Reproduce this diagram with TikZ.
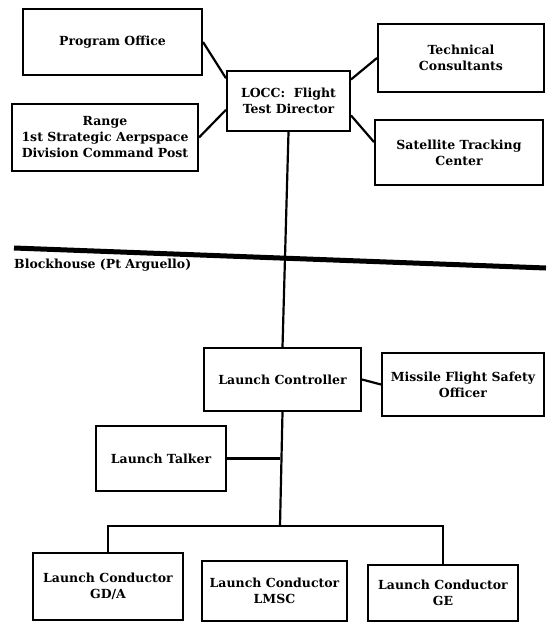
\documentclass[tikz,border=0pt]{standalone}
\usepackage{fontspec}
\setmainfont{DejaVu Serif}
\begin{document}
\begin{tikzpicture}[x=1pt,y=-1pt,
  box/.style={draw, line width=2pt, align=center, inner sep=1pt,
    font=\bfseries\fontsize{12.5}{16}\selectfont},
  conn/.style={line width=2.2pt}]
\useasboundingbox (0,0) rectangle (546,623);
% top group
\node[box, minimum width=179pt, minimum height=66pt] (po) at (112.5,42) {Program Office};
\node[box, minimum width=166pt, minimum height=68pt] (tc) at (461,58) {Technical\\Consultants};
\node[box, minimum width=123pt, minimum height=60pt] (locc) at (288.5,101) {LOCC:\ \ Flight\\Test Director};
\node[box, minimum width=186pt, minimum height=67pt] (range) at (105,137.5) {Range\\1st Strategic Aerpspace\\Division Command Post};
\node[box, minimum width=168pt, minimum height=65pt] (stc) at (459,152.5) {Satellite Tracking\\Center};
\draw[conn] (po.east) -- (locc.160);
\draw[conn] (locc.19) -- (tc.west);
\draw[conn] (range.east) -- (locc.188);
\draw[conn] (locc.-13) -- (stc.173);
% divider
\coordinate (dl) at (14,248);
\coordinate (dr) at (546,268);
\draw[line width=5pt] (dl) -- (dr);
\node[anchor=west, inner sep=0pt, font=\bfseries\fontsize{12.5}{14}\selectfont] (bh) at (14,265) {Blockhouse (Pt Arguello)};
% blockhouse group
\node[box, minimum width=157pt, minimum height=63pt] (lc) at (282.5,379.5) {Launch Controller};
\node[box, minimum width=162pt, minimum height=63pt] (mfso) at (463,384.5) {Missile Flight Safety\\Officer};
\node[box, minimum width=130pt, minimum height=65pt] (lt) at (161,458.5) {Launch Talker};
\node[box, minimum width=150pt, minimum height=67pt] (gda) at (108,586.5) {Launch Conductor\\GD/A};
\node[box, minimum width=145pt, minimum height=60pt] (lmsc) at (274.5,591) {Launch Conductor\\LMSC};
\node[box, minimum width=150pt, minimum height=56pt] (ge) at (443,593) {Launch Conductor\\GE};
\draw[conn] (locc.south) -- (lc.north);
\draw[conn] (lc.east) -- (mfso.west);
\coordinate (bar) at (280,526);
\draw[conn] (lc.south) -- (bar);
\draw[conn] (lt.east) -- (lt.east -| bar);
\draw[conn] (gda.north) |- (bar) -| (ge.north);
\end{tikzpicture}
\end{document}
